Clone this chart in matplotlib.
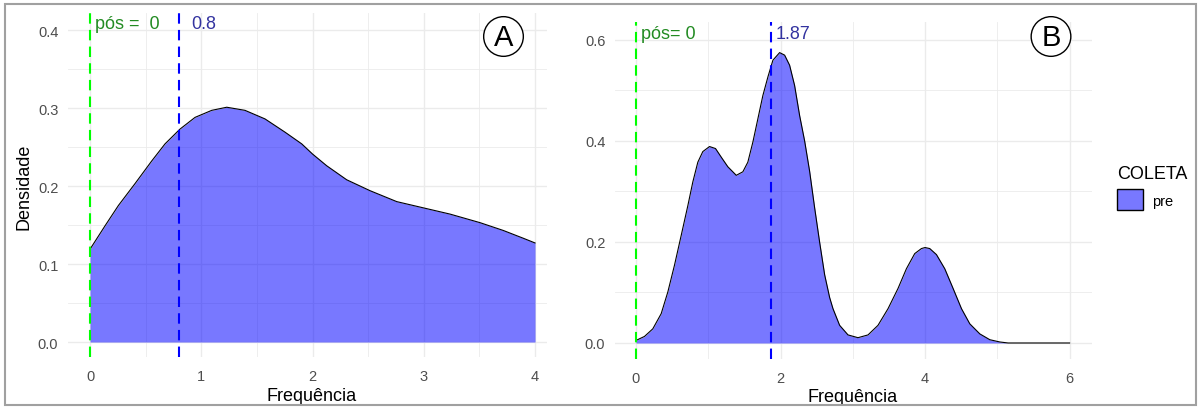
import matplotlib as mpl
mpl.use('Agg')
import matplotlib.pyplot as plt
from matplotlib.patches import Patch, Rectangle
from matplotlib.ticker import MultipleLocator, FormatStrFormatter

plt.rcParams['font.family'] = ['Liberation Sans', 'DejaVu Sans']

# painel A - densidade
freq_a = [0.0, 0.135, 0.255, 0.404, 0.554, 0.674, 0.809, 0.944, 1.094, 1.229,
          1.393, 1.573, 1.753, 1.903, 2.0, 2.127, 2.307, 2.517, 2.757, 2.996,
          3.236, 3.506, 3.715, 3.895, 4.0]
dens_a = [0.119, 0.149, 0.175, 0.203, 0.232, 0.254, 0.273, 0.288, 0.297, 0.301,
          0.297, 0.286, 0.269, 0.254, 0.241, 0.226, 0.208, 0.194, 0.180, 0.172,
          0.164, 0.153, 0.143, 0.133, 0.127]
media_a = 0.8

# painel B
freq_b = [0.0, 0.118, 0.233, 0.349, 0.441, 0.533, 0.626, 0.718, 0.787, 0.856,
          0.925, 1.018, 1.101, 1.180, 1.271, 1.388, 1.479, 1.548, 1.618, 1.687,
          1.756, 1.826, 1.895, 1.988, 2.057, 2.126, 2.195, 2.265, 2.334, 2.403,
          2.472, 2.541, 2.611, 2.68, 2.726, 2.818, 2.934, 3.072, 3.211, 3.349,
          3.488, 3.626, 3.742, 3.857, 3.95, 4.0, 4.065, 4.158, 4.273, 4.388,
          4.504, 4.619, 4.758, 4.896, 5.035, 5.15, 6.0]
dens_b = [0.005, 0.013, 0.028, 0.058, 0.101, 0.154, 0.213, 0.272, 0.319, 0.358,
          0.379, 0.389, 0.385, 0.368, 0.349, 0.332, 0.339, 0.358, 0.398, 0.444,
          0.490, 0.527, 0.560, 0.575, 0.570, 0.550, 0.510, 0.450, 0.400, 0.340,
          0.268, 0.200, 0.135, 0.090, 0.068, 0.035, 0.016, 0.0105, 0.016, 0.035,
          0.068, 0.108, 0.147, 0.177, 0.187, 0.189, 0.187, 0.175, 0.147, 0.108,
          0.068, 0.038, 0.018, 0.0065, 0.002, 0.0, 0.0]
media_b = 1.87

pos_valor = 0
grupo = 'pre'

W, H = 1201, 410
fig = plt.figure(figsize=(W / 100, H / 100), dpi=100)

def box(l, r, t, b):
    return [l / W, 1 - b / H, (r - l) / W, (b - t) / H]

axA = fig.add_axes(box(68, 546.5, 14, 358))
axB = fig.add_axes(box(615, 1092, 23, 360))

def style(ax, xmaj, xmin, ymaj, ymin):
    for s in ax.spines.values():
        s.set_visible(False)
    ax.xaxis.set_major_locator(MultipleLocator(xmaj))
    ax.xaxis.set_minor_locator(MultipleLocator(xmin))
    ax.yaxis.set_major_locator(MultipleLocator(ymaj))
    ax.yaxis.set_minor_locator(MultipleLocator(ymin))
    ax.yaxis.set_major_formatter(FormatStrFormatter('%.1f'))
    ax.grid(which='major', color='#ebebeb', lw=1.0)
    ax.grid(which='minor', color='#ebebeb', lw=0.6)
    ax.set_axisbelow(True)
    ax.tick_params(which='both', length=0, labelsize=10.5, labelcolor='#4d4d4d')
    ax.tick_params(axis='x', pad=8.6)
    ax.tick_params(axis='y', pad=7)

dash = (0, (5, 3))

# A
style(axA, 1, 0.5, 0.1, 0.05)
axA.fill_between(freq_a, dens_a, 0, color='blue', alpha=0.53, lw=0)
axA.plot(freq_a, dens_a, color='black', lw=0.8)
axA.axvline(pos_valor, color='#00ff00', ls=dash, lw=1.5, zorder=3)
axA.axvline(media_a, color='#0000ff', ls=dash, lw=1.5, zorder=3)
axA.text(0.045, 0.408, f'pós =  {pos_valor}', color='#228b22', fontsize=13, va='center')
axA.text(0.908, 0.408, f'{media_a}', color='#3333a0', fontsize=13, va='center')
axA.set_xlim(-0.198, 4.103)
axA.set_ylim(-0.0192, 0.4218)
axA.set_ylabel('Densidade', fontsize=13, va='center')
axA.yaxis.set_label_coords(-0.092, 0.497)
axA.set_xlabel('Frequência', fontsize=13, va='center')
axA.xaxis.set_label_coords(0.51, -0.113)

# B
style(axB, 2, 1, 0.2, 0.1)
axB.fill_between(freq_b, dens_b, 0, color='blue', alpha=0.53, lw=0)
axB.plot(freq_b, dens_b, color='black', lw=0.8)
axB.axvline(pos_valor, color='#00ff00', ls=dash, lw=1.5, zorder=3)
axB.axvline(media_b, color='#0000ff', ls=dash, lw=1.5, zorder=3)
axB.text(0.075, 0.612, f'pós= {pos_valor}', color='#228b22', fontsize=13, va='center')
axB.text(1.936, 0.612, f'{media_b}', color='#3333a0', fontsize=13, va='center')
axB.set_xlim(-0.29, 6.31)
axB.set_ylim(-0.0317, 0.6356)
axB.set_xlabel('Frequência', fontsize=13, va='center')
axB.xaxis.set_label_coords(0.497, -0.11)

# letras dos paineis
for letra, cx, cy in [('A', 503.5, 37.5), ('B', 1051, 37.5)]:
    fig.text(cx / W, 1 - cy / H, letra, fontsize=21, ha='center', va='center',
             bbox=dict(boxstyle='circle,pad=0.2', fc='white', ec='black', lw=1))

handle = Patch(facecolor=(0, 0, 1, 0.53), edgecolor='black', lw=1)
fig.legend(handles=[handle], labels=[grupo], title='COLETA', loc='upper left',
           bbox_to_anchor=(1117 / W, 1 - 166 / H), frameon=False, fontsize=10.5,
           title_fontsize=13, handlelength=1.8, handleheight=1.85,
           handletextpad=0.6, borderpad=0, borderaxespad=0, alignment='left')

fig.patches.append(Rectangle((5 / W, 4 / H), 1191 / W, 401 / H, transform=fig.transFigure,
                             fill=False, ec='#a0a0a0', lw=1.5))

fig.savefig('out.png', dpi=100)
